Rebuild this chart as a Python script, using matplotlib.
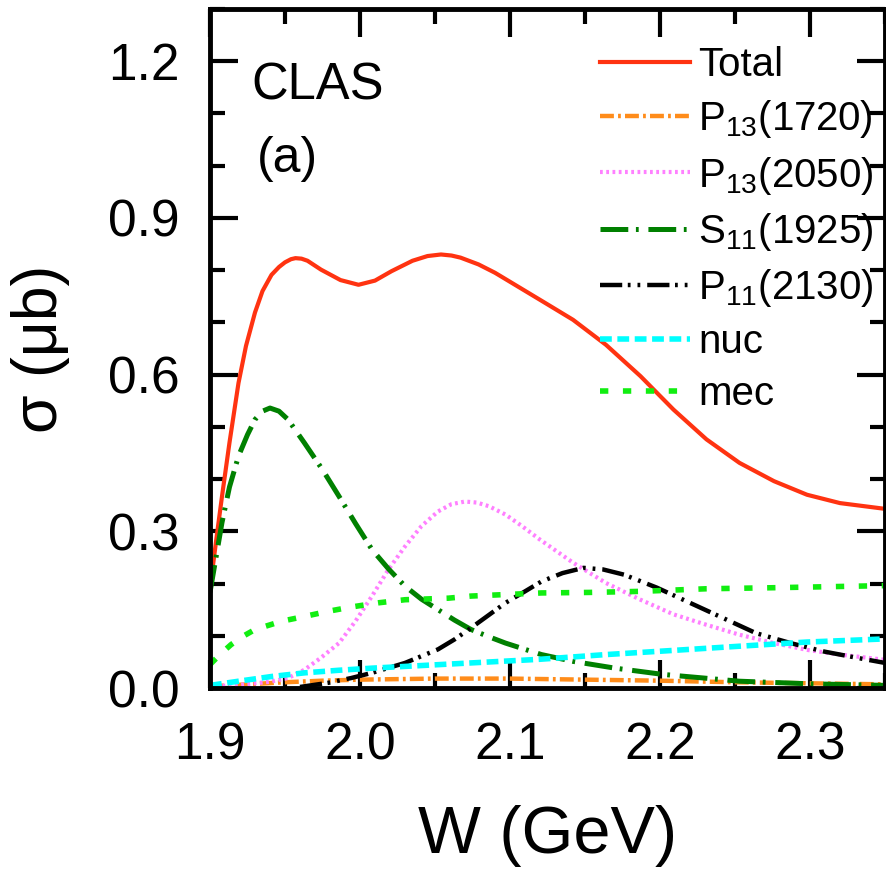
import matplotlib
matplotlib.use("Agg")
import matplotlib.pyplot as plt
from matplotlib.ticker import MultipleLocator

plt.rcParams["font.family"] = ["Liberation Sans", "DejaVu Sans"]
plt.rcParams["mathtext.fontset"] = "custom"
plt.rcParams["mathtext.rm"] = "Liberation Sans"
plt.rcParams["mathtext.it"] = "Liberation Sans"
plt.rcParams["lines.scale_dashes"] = False

# Total
w_total = [1.900, 1.904, 1.908, 1.913, 1.919, 1.924, 1.930, 1.935, 1.941, 1.946, 1.950,
           1.954, 1.957, 1.961, 1.965, 1.974, 1.987, 1.999, 2.010, 2.021, 2.035, 2.045,
           2.054, 2.061, 2.067, 2.079, 2.090, 2.101, 2.123, 2.142, 2.164, 2.187, 2.209,
           2.231, 2.253, 2.276, 2.298, 2.320, 2.350]
s_total = [0.190, 0.280, 0.367, 0.470, 0.584, 0.655, 0.719, 0.760, 0.791, 0.806, 0.815,
           0.821, 0.823, 0.822, 0.818, 0.801, 0.781, 0.772, 0.780, 0.798, 0.818, 0.827,
           0.830, 0.828, 0.824, 0.811, 0.795, 0.776, 0.738, 0.705, 0.657, 0.597, 0.533,
           0.476, 0.431, 0.396, 0.370, 0.354, 0.343]

# P13(1720)
w_p13a = [1.900, 1.925, 1.950, 1.975, 2.000, 2.050, 2.100, 2.150, 2.200, 2.250, 2.300, 2.350]
s_p13a = [0.003, 0.007, 0.011, 0.014, 0.016, 0.018, 0.018, 0.016, 0.014, 0.011, 0.009, 0.007]

# P13(2050)
w_p13b = [1.900, 1.920, 1.940, 1.952, 1.963, 1.974, 1.986, 1.997, 2.008, 2.019, 2.030,
          2.041, 2.052, 2.061, 2.070, 2.078, 2.086, 2.097, 2.108, 2.120, 2.142, 2.164,
          2.187, 2.209, 2.231, 2.253, 2.276, 2.298, 2.320, 2.350]
s_p13b = [0.003, 0.006, 0.012, 0.019, 0.035, 0.058, 0.086, 0.128, 0.176, 0.227, 0.271,
          0.310, 0.338, 0.352, 0.357, 0.355, 0.348, 0.332, 0.310, 0.284, 0.240, 0.201,
          0.169, 0.141, 0.121, 0.102, 0.086, 0.073, 0.064, 0.054]

# S11(1925)
w_s11 = [1.900, 1.904, 1.908, 1.913, 1.919, 1.925, 1.930, 1.935, 1.940, 1.946, 1.952,
         1.963, 1.975, 1.986, 1.997, 2.008, 2.019, 2.030, 2.041, 2.052, 2.063, 2.074,
         2.086, 2.097, 2.110, 2.121, 2.142, 2.170, 2.202, 2.253, 2.300, 2.350]
s_s11 = [0.183, 0.250, 0.317, 0.385, 0.444, 0.485, 0.514, 0.530, 0.536, 0.530, 0.514,
         0.469, 0.418, 0.367, 0.315, 0.265, 0.228, 0.195, 0.170, 0.150, 0.130, 0.112,
         0.098, 0.086, 0.074, 0.064, 0.051, 0.038, 0.026, 0.013, 0.008, 0.005]

# P11(2130)
w_p11 = [1.960, 1.979, 1.994, 2.008, 2.030, 2.052, 2.063, 2.074, 2.086, 2.097, 2.110,
         2.121, 2.135, 2.149, 2.162, 2.176, 2.198, 2.220, 2.242, 2.264, 2.287, 2.309,
         2.331, 2.350]
s_p11 = [0.002, 0.010, 0.019, 0.029, 0.048, 0.074, 0.093, 0.115, 0.140, 0.163, 0.185,
         0.204, 0.220, 0.230, 0.227, 0.217, 0.192, 0.163, 0.134, 0.105, 0.086, 0.070,
         0.058, 0.048]

# nuc
w_nuc = [1.900, 1.919, 1.941, 1.963, 1.986, 2.008, 2.041, 2.074, 2.120, 2.164, 2.209,
         2.253, 2.298, 2.350]
s_nuc = [0.005, 0.013, 0.022, 0.029, 0.034, 0.038, 0.043, 0.048, 0.055, 0.064, 0.072,
         0.080, 0.088, 0.094]

# mec
w_mec = [1.900, 1.907, 1.914, 1.922, 1.930, 1.948, 1.963, 1.979, 1.994, 2.012, 2.030,
         2.059, 2.074, 2.121, 2.153, 2.187, 2.231, 2.276, 2.350]
s_mec = [0.045, 0.065, 0.083, 0.099, 0.112, 0.128, 0.137, 0.147, 0.155, 0.163, 0.169,
         0.172, 0.176, 0.182, 0.183, 0.185, 0.190, 0.192, 0.196]

fig = plt.figure(figsize=(8.87, 8.72), dpi=100)
ax = fig.add_axes([210 / 887, 1 - 688 / 872, 675 / 887, 679 / 872])

ax.plot(w_total, s_total, color="#ff3311", lw=3, label="Total")
ax.plot(w_p13a, s_p13a, color="#ff8c1a", lw=3.2, dashes=(10, 3, 2, 3), label=r"P$_{13}$(1720)")
ax.plot(w_p13b, s_p13b, color="#ff80ff", lw=3, dashes=(2, 2.5), label=r"P$_{13}$(2050)")
ax.plot(w_s11, s_s11, color="#008000", lw=3.6, dashes=(20, 5.5, 2, 7), label=r"S$_{11}$(1925)")
ax.plot(w_p11, s_p11, color="black", lw=3.2, dashes=(16, 4, 2, 5, 2, 5), label=r"P$_{11}$(2130)")
ax.plot(w_nuc, s_nuc, color="#00ffff", lw=4, dashes=(8.5, 4), label="nuc")
ax.plot(w_mec, s_mec, color="#11ee11", lw=4, dashes=(6, 10.5), label="mec")

ax.set_xlim(1.9, 2.35)
ax.set_ylim(0, 1.3)
ax.xaxis.set_major_locator(MultipleLocator(0.1))
ax.xaxis.set_minor_locator(MultipleLocator(0.05))
ax.yaxis.set_major_locator(MultipleLocator(0.3))
ax.yaxis.set_minor_locator(MultipleLocator(0.1))
ax.xaxis.set_major_formatter(lambda v, p: f"{v:.1f}")
ax.yaxis.set_major_formatter(lambda v, p: f"{v:.1f}")
ax.tick_params(which="both", direction="in", top=True, right=True, width=3, labelsize=37)
ax.tick_params(which="major", length=20)
ax.tick_params(which="minor", length=11)
ax.tick_params(axis="x", which="major", pad=24)
ax.tick_params(axis="y", which="major", pad=22)
for sp in ax.spines.values():
    sp.set_linewidth(3.5)

ax.set_xlabel("W (GeV)", fontsize=48, labelpad=25)
ax.set_ylabel("σ (μb)", fontsize=45, labelpad=27)

ax.text(0.062, 0.887, "CLAS", transform=ax.transAxes, fontsize=36.5, va="center", ha="left")
ax.text(0.070, 0.779, "(a)", transform=ax.transAxes, fontsize=36, va="center", ha="left")

ax.legend(loc="upper left", bbox_to_anchor=(0.578, 0.945), frameon=False, fontsize=29,
          handlelength=2.23, handletextpad=0.2, labelspacing=0.35,
          borderpad=0, borderaxespad=0)

plt.savefig("out.png", dpi=100)
